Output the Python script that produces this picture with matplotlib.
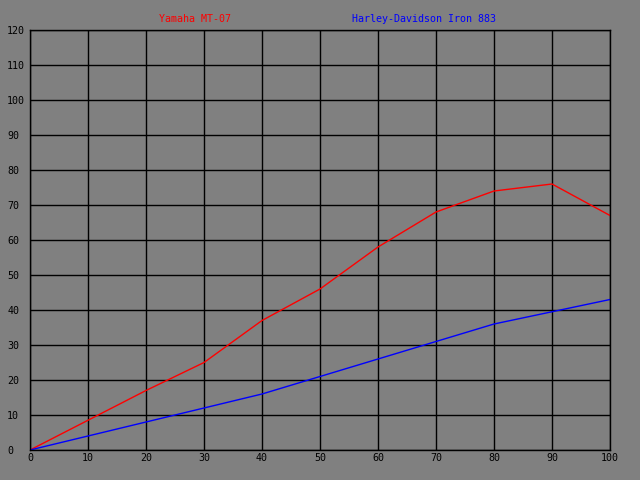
import matplotlib
matplotlib.use('Agg')
import matplotlib.pyplot as plt

# data
x_vals = [0, 10, 20, 30, 40, 50, 60, 70, 80, 90, 100]
yamaha = [0, 8.5, 17, 25, 37, 46, 58, 68, 74, 76, 67]
harley = [0, 4, 8, 12, 16, 21, 26, 31, 36, 39.5, 43]
labels = ['Yamaha MT-07', 'Harley-Davidson Iron 883']
colors = ['#ff0000', '#0000ff']

bg = '#808080'
fs = 7.2
plt.rcParams['font.family'] = ['DejaVu Sans Mono']

fig = plt.figure(figsize=(6.4, 4.8), dpi=100, facecolor=bg)
ax = fig.add_axes([30 / 640, 30 / 480, 580 / 640, 420 / 480], facecolor=bg)

ax.plot(x_vals, yamaha, color=colors[0], lw=1)
ax.plot(x_vals, harley, color=colors[1], lw=1)

ax.set_xlim(0, 100)
ax.set_ylim(0, 120)
ax.set_xticks(range(0, 101, 10))
ax.set_yticks(range(0, 121, 10))
ax.grid(True, color='black', lw=1)
ax.set_axisbelow(True)
for s in ax.spines.values():
    s.set_color('black')
    s.set_linewidth(1)
ax.tick_params(length=0, labelsize=fs, colors='black')
ax.tick_params(axis='x', pad=2.2)
# y labels are left aligned at the image edge
ax.tick_params(axis='y', pad=16.5)
for lbl in ax.get_yticklabels():
    lbl.set_horizontalalignment('left')

# legend as coloured text across the top
fig.text(195 / 640, 1 - 19 / 480, labels[0], color=colors[0], fontsize=fs,
         ha='center', va='center')
fig.text(424 / 640, 1 - 19 / 480, labels[1], color=colors[1], fontsize=fs,
         ha='center', va='center')

fig.savefig('out.png', dpi=100, facecolor=bg)
